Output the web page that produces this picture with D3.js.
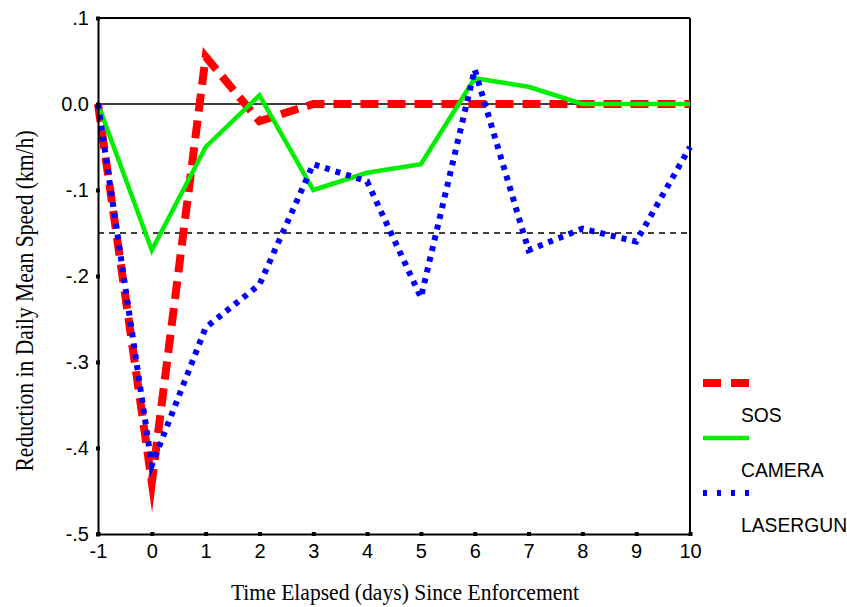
<!DOCTYPE html>
<html>
<head>
<meta charset="utf-8">
<script src="https://cdn.jsdelivr.net/npm/d3@7"></script>
<style>
  body { margin: 0; background: #fff; }
  svg { display: block; }
</style>
</head>
<body>
<svg id="chart" width="847" height="607"></svg>
<script>
// + -- data ---------------------------------------------------------------- +
const days = [-1, 0, 1, 2, 3, 4, 5, 6, 7, 8, 9, 10]
const dayLabels = ['-1', '0', '1', '2', '3', '4', '5', '6', '7', '8', '9', '10']
const sos = [0, -0.44, 0.055, -0.02, 0, 0, 0, 0, 0, 0, 0, 0]
const camera = [0, -0.17, -0.05, 0.01, -0.10, -0.08, -0.07, 0.03, 0.02, 0, 0, 0]
const lasergun = [0, -0.42, -0.26, -0.21, -0.07, -0.09, -0.225, 0.04, -0.17, -0.145, -0.16, -0.05]
const yTicks = [0.1, 0, -0.1, -0.2, -0.3, -0.4, -0.5]
const yTickLabels = ['.1', '0.0', '-.1', '-.2', '-.3', '-.4', '-.5']
const refLine = -0.15
const seriesNames = ['SOS', 'CAMERA', 'LASERGUN']

const svg = d3.select('#chart')
const plotLeft = 98, plotRight = 690, plotTop = 18, plotBottom = 534

const x = d3.scaleLinear().domain([-1, 10]).range([plotLeft, plotRight])
const y = d3.scaleLinear().domain([-0.5, 0.1]).range([plotBottom, plotTop])

const series = [
  {name: seriesNames[0], values: sos, color: '#ff0000', width: 8, dash: '18,9', legendDash: '18,10'},
  {name: seriesNames[1], values: camera, color: '#00ee00', width: 4.5, dash: null, legendDash: null},
  {name: seriesNames[2], values: lasergun, color: '#0000ff', width: 6, dash: '5,6', legendDash: '4,10'}
]

// + -- frame --------------------------------------------------------------- +
svg.append('line')
  .attr('x1', plotLeft).attr('x2', plotRight).attr('y1', plotTop).attr('y2', plotTop)
  .attr('stroke', '#000').attr('stroke-width', 2)
svg.append('line')
  .attr('x1', plotRight).attr('x2', plotRight).attr('y1', plotTop).attr('y2', plotBottom)
  .attr('stroke', '#000').attr('stroke-width', 2)

// zero line + reference line
svg.append('line')
  .attr('x1', plotLeft).attr('x2', plotRight).attr('y1', y(0)).attr('y2', y(0))
  .attr('stroke', '#000').attr('stroke-width', 1.5)
svg.append('line')
  .attr('x1', plotLeft).attr('x2', plotRight).attr('y1', y(refLine)).attr('y2', y(refLine))
  .attr('stroke', '#000').attr('stroke-width', 1.5)
  .attr('stroke-dasharray', '6,5')

// + -- series -------------------------------------------------------------- +
const line = d3.line()
  .x((d, i) => x(days[i]))
  .y(d => y(d))

series.forEach(s => {
  svg.append('path')
    .datum(s.values)
    .attr('d', line)
    .attr('fill', 'none')
    .attr('stroke', s.color)
    .attr('stroke-width', s.width)
    .attr('stroke-linejoin', 'miter')
    .attr('stroke-miterlimit', 20)
    .attr('stroke-dasharray', s.dash)
})

// + -- axes ---------------------------------------------------------------- +
const xAxis = d3.axisBottom(x)
  .tickValues(days)
  .tickFormat((d, i) => dayLabels[i])
  .tickSizeInner(3)
  .tickSizeOuter(0)
  .tickPadding(7)

const yAxis = d3.axisLeft(y)
  .tickValues(yTicks)
  .tickFormat((d, i) => yTickLabels[i])
  .tickSizeInner(3)
  .tickSizeOuter(0)
  .tickPadding(6)

const gx = svg.append('g')
  .attr('transform', 'translate(0,' + plotBottom + ')')
  .call(xAxis)
const gy = svg.append('g')
  .attr('transform', 'translate(' + plotLeft + ',0)')
  .call(yAxis)

;[gx, gy].forEach(g => {
  g.select('.domain').attr('stroke', '#000').attr('stroke-width', 2)
  g.selectAll('.tick line').attr('stroke', '#000').attr('stroke-width', 4)
  g.selectAll('.tick text')
    .attr('fill', '#000')
    .style('font-family', 'Liberation Sans, Arial, sans-serif')
    .style('font-size', '20px')
})
gy.selectAll('.tick line').attr('x2', 2).attr('x1', -2)
gx.selectAll('.tick line').attr('y1', -2).attr('y2', 2)

// + -- axis titles --------------------------------------------------------- +
svg.append('text')
  .text('Time Elapsed (days) Since Enforcement')
  .attr('transform', 'translate(405,600) scale(1,1.08)')
  .attr('text-anchor', 'middle')
  .style('font-family', 'Liberation Serif, Times New Roman, serif')
  .style('font-size', '21.6px')
  .attr('fill', '#000')

svg.append('text')
  .text('Reduction in Daily Mean Speed (km/h)')
  .attr('transform', 'translate(33,301) rotate(-90) scale(1,1.12)')
  .attr('text-anchor', 'middle')
  .style('font-family', 'Liberation Serif, Times New Roman, serif')
  .style('font-size', '21.6px')
  .attr('fill', '#000')

// + -- legend -------------------------------------------------------------- +
const legend = svg.append('g').attr('transform', 'translate(703,383)')
series.forEach((s, i) => {
  legend.append('line')
    .attr('x1', 0).attr('x2', 46)
    .attr('y1', i * 55).attr('y2', i * 55)
    .attr('stroke', s.color)
    .attr('stroke-width', s.width)
    .attr('stroke-dasharray', s.legendDash)
  legend.append('text')
    .text(s.name)
    .attr('x', 38).attr('y', i * 55 + 39)
    .style('font-family', 'Liberation Sans, Arial, sans-serif')
    .style('font-size', '19.3px')
    .attr('fill', '#000')
})
</script>
</body>
</html>
